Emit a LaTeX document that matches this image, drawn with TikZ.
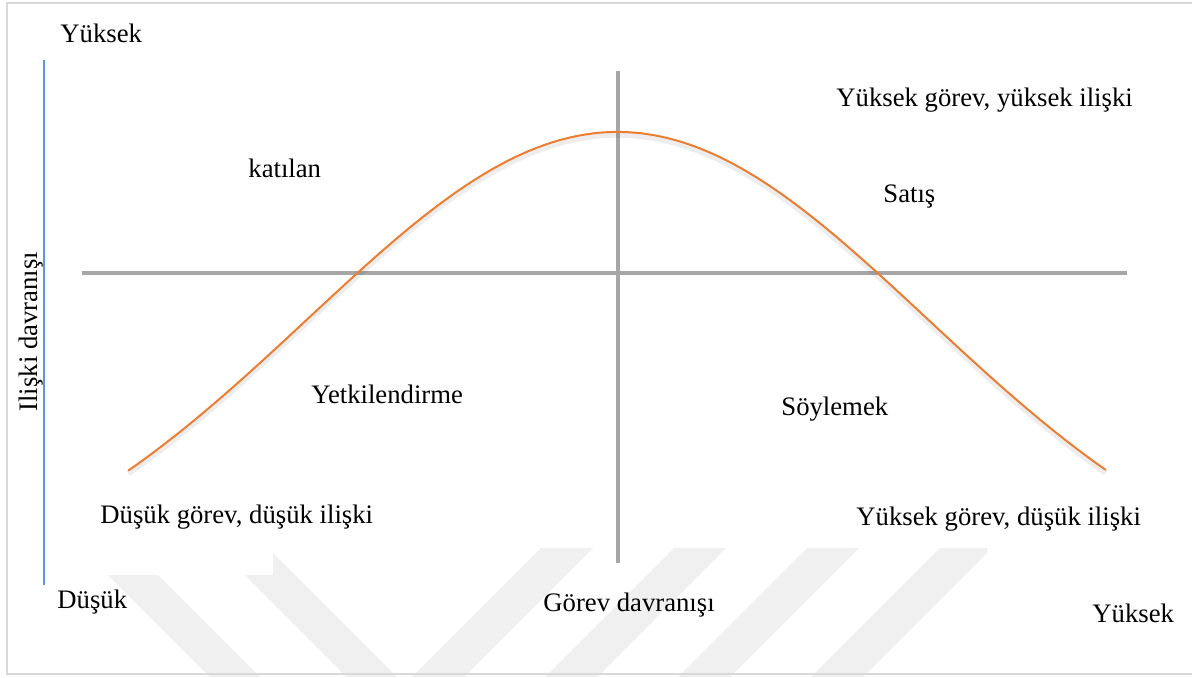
\documentclass[tikz,border=0pt]{standalone}
\usepackage{fontspec}
\setmainfont{Liberation Serif}
\definecolor{frameg}{HTML}{D9D9D9}
\definecolor{axisg}{HTML}{A6A6A6}
\definecolor{curveo}{HTML}{ED7D31}
\definecolor{axisb}{HTML}{5B9BD5}
\definecolor{wmark}{HTML}{F0F0F0}
\begin{document}
\begin{tikzpicture}[x=0.5pt,y=-0.5pt,
  lbl/.style={font=\fontsize{13.35}{16}\selectfont, inner sep=0pt, anchor=base west},
  axisline/.style={axisg, line width=1.6pt},
  blueaxis/.style={axisb, line width=0.7pt},
  bellcurve/.style={curveo, line width=1pt, line cap=round},
  wstripe/.style={fill=wmark, draw=none}]
\useasboundingbox (0,0) rectangle (1192,677);
\fill[white] (0,0) rectangle (1192,677);
% faint watermark stripes
\begin{scope}
  \clip (0,575) -- (273,575) -- (273,548) -- (987,548) -- (987,562) -- (1192,562) -- (1192,677) -- (0,677) -- cycle;
  \foreach \a in {108,245}
    \fill[wstripe] (\a-40,535) -- (\a+10,535) -- (\a+155,680) -- (\a+105,680) -- cycle;
  \foreach \a in {541,674,807,940}
    \fill[wstripe] (\a+13,535) -- (\a+65,535) -- (\a-80,680) -- (\a-132,680) -- cycle;
\end{scope}
% frame
\draw[frameg, line width=1pt] (1200,3) -- (7,3) -- (7,674) -- (1200,674);
% axes
\coordinate (vt) at (618,71);
\coordinate (vb) at (618,563);
\coordinate (hl) at (82,273);
\coordinate (hr) at (1127,273);
\coordinate (bt) at (44,60);
\coordinate (bb) at (44,585);
\draw[blueaxis] (bt) -- (bb);
\draw[axisline] (vt) -- (vb);
\draw[axisline] (hl) -- (hr);
% curve shadow
\begin{scope}[yshift=-1.6pt]
  \draw[black, opacity=0.07, line width=2.6pt] plot[domain=-489:488, samples=140]
    ({617.5+\x},{607.5-475.5*exp(-0.5*(\x/310)*(\x/310))});
\end{scope}
% bell curve
\draw[bellcurve] plot[domain=-489:488, samples=140]
  ({617.5+\x},{607.5-475.5*exp(-0.5*(\x/310)*(\x/310))});
% labels
\node[lbl] (yhi) at (60,42) {Yüksek};
\node[lbl] (kat) at (248,177.5) {katılan};
\node[lbl] (hh) at (836,106) {Yüksek görev, yüksek ilişki};
\node[lbl] (sat) at (883,202) {Satış};
\node[lbl] (yet) at (311,403) {Yetkilendirme};
\node[lbl] (soy) at (781,415) {Söylemek};
\node[lbl] (ll) at (100,523) {Düşük görev, düşük ilişki};
\node[lbl] (hld) at (856,525.5) {Yüksek görev, düşük ilişki};
\node[lbl] (dus) at (57,608) {Düşük};
\node[lbl] (gor) at (543,611) {Görev davranışı};
\node[lbl] (yhr) at (1092,622) {Yüksek};
\node[lbl, rotate=90] (ili) at (37.3,411.7) {Ilişki davranışı};
\end{tikzpicture}
\end{document}
